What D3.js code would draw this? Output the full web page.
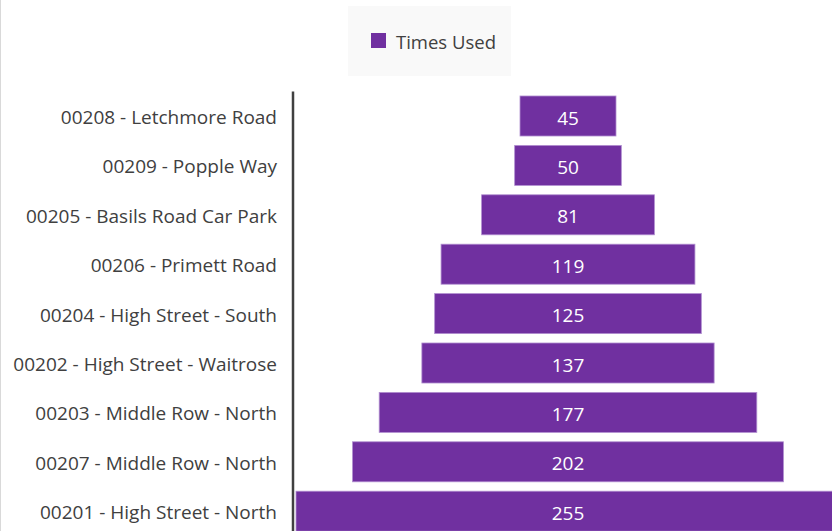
<!DOCTYPE html>
<html>
<head>
<meta charset="utf-8">
<script src="https://cdn.jsdelivr.net/npm/d3@7"></script>
<style>
  body { margin: 0; background: #fff; }
  svg { display: block; font-family: "Open Sans", sans-serif; }
</style>
</head>
<body>
<script>
// Funnel-style bar chart: car park usage
var width = 832,
    height = 531;

var categories = [
    "00208 - Letchmore Road",
    "00209 - Popple Way",
    "00205 - Basils Road Car Park",
    "00206 - Primett Road",
    "00204 - High Street - South",
    "00202 - High Street - Waitrose",
    "00203 - Middle Row - North",
    "00207 - Middle Row - North",
    "00201 - High Street - North"
];
var timesUsed = [45, 50, 81, 119, 125, 137, 177, 202, 255];
var seriesName = "Times Used";

var purple = "#7030a0";
var center = 568;

var svg = d3.select("body").append("svg")
    .attr("width", width)
    .attr("height", height);

// light chart border on the left
svg.append("line")
    .attr("x1", 0.5).attr("x2", 0.5)
    .attr("y1", 0).attr("y2", height)
    .style("stroke", "#d9d9d9");

var y = d3.scaleBand()
    .domain(categories)
    .range([91.3, 91.3 + 9 * 49.4])
    .paddingInner(0.19)
    .paddingOuter(0.095);

// half width of a bar around the centre
var w = d3.scaleLinear()
    .domain([0, 255])
    .range([0, 272]);

// bars
svg.selectAll("rect.bar")
    .data(timesUsed)
    .enter()
    .append("rect")
    .attr("class", "bar")
    .attr("x", function(d) { return center - w(d); })
    .attr("y", function(d, i) { return y(categories[i]); })
    .attr("width", function(d) { return 2 * w(d); })
    .attr("height", y.bandwidth())
    .style("fill", purple)
    .style("stroke", "#b18fd0")
    .style("stroke-width", 0.8);

// value labels
svg.selectAll("text.val")
    .data(timesUsed)
    .enter()
    .append("text")
    .attr("class", "val")
    .attr("x", center)
    .attr("y", function(d, i) { return y(categories[i]) + y.bandwidth() / 2 + 2; })
    .attr("dy", "0.35em")
    .attr("text-anchor", "middle")
    .style("fill", "#fff")
    .style("font-size", "19px")
    .text(function(d) { return d; });

// category axis
var axis = svg.append("g")
    .attr("transform", "translate(293,0)")
    .call(d3.axisLeft(y).tickSize(0).tickPadding(16));
axis.select(".domain")
    .attr("d", "M0,91.5V" + height)
    .style("stroke", "#404040")
    .style("stroke-width", 2.5);
axis.selectAll("text")
    .attr("dy", "0.42em")
    .style("font-family", "Open Sans, sans-serif")
    .style("font-size", "19px")
    .style("fill", "#404040");

// legend
var legend = svg.append("g");
legend.append("rect")
    .attr("x", 348).attr("y", 6)
    .attr("width", 163).attr("height", 70)
    .style("fill", "#f9f9f9");
legend.append("rect")
    .attr("x", 371).attr("y", 33)
    .attr("width", 15).attr("height", 15)
    .style("fill", purple);
legend.append("text")
    .attr("x", 396).attr("y", 42)
    .attr("dy", "0.38em")
    .style("font-size", "18.5px")
    .style("fill", "#404040")
    .text(seriesName);
</script>
</body>
</html>
